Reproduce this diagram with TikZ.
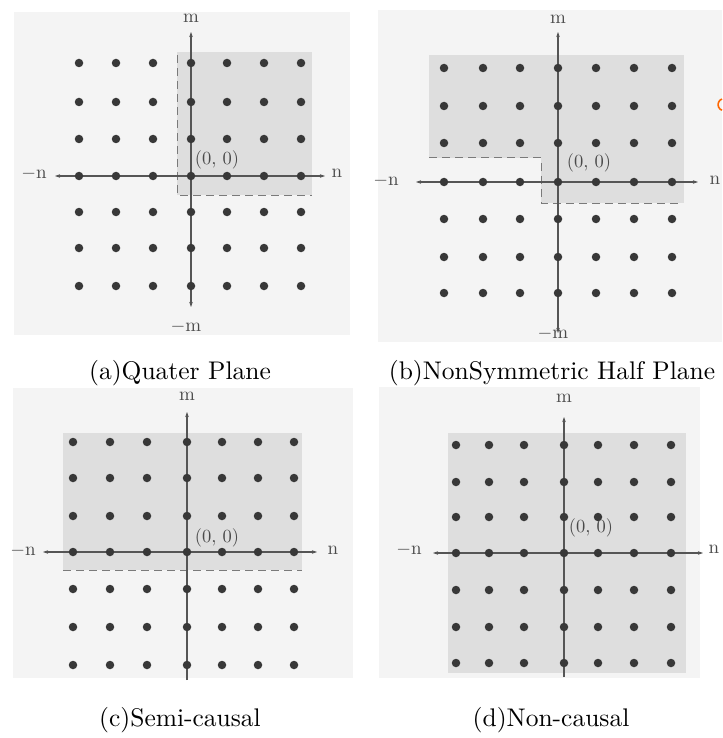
\documentclass[tikz,border=0pt]{standalone}
\usetikzlibrary{arrows.meta}
\definecolor{scanbg}{HTML}{F4F4F4}
\definecolor{shadec}{HTML}{DEDEDE}
\definecolor{dotc}{HTML}{383838}
\definecolor{axisc}{HTML}{555555}
\definecolor{txtc}{HTML}{4A4A4A}
\definecolor{dashc}{HTML}{7A7A7A}
\begin{document}
\begin{tikzpicture}[x=1pt,y=-1pt,
 axisline/.style={draw=axisc, line width=1.1pt, {Stealth[length=5pt,width=3.5pt]}-{Stealth[length=5pt,width=3.5pt]}},
 axisup/.style={draw=axisc, line width=1.1pt, -{Stealth[length=5pt,width=3.5pt]}},
 dashln/.style={draw=dashc, line width=1pt, dash pattern=on 8pt off 5pt},
 lbl/.style={text=txtc, scale=1.9, inner sep=0pt},
 orig/.style={text=txtc, scale=1.85, inner sep=0pt},
 captxt/.style={text=black, scale=2.55, inner sep=0pt},
 dot/.style={circle, fill=dotc, minimum size=8.5pt, inner sep=0pt}]
\useasboundingbox (0,0) rectangle (722,738);
\fill[white] (0,0) rectangle (722,738);
% panel backgrounds
\fill[scanbg] (14,12) rectangle (350,335);
\fill[scanbg] (378,10) rectangle (722,342);
\fill[scanbg] (13,388) rectangle (353,678);
\fill[scanbg] (379,387) rectangle (700,678);

% ---------- (a) quarter plane ----------
\fill[shadec] (177,52) rectangle (312,195);
\draw[dashln] (177,55) -- (177,195) -- (312,195);
\coordinate (aT) at (191,32); \coordinate (aB) at (191,307);
\coordinate (aL) at (55,176); \coordinate (aR) at (325,176);
\draw[axisline] (aL) -- (aR);
\draw[axisline] (aB) -- (aT);
\foreach \x [count=\i] in {79,116,153,191,227,264,301}
  \foreach \y [count=\j] in {63,102,139,176,212,248,286}
    \node[dot] (a-\i-\j) at (\x,\y) {};
\node[lbl] (am) at (191,18) {m};
\node[lbl] (amm) at (186,327) {$-$m};
\node[lbl] (anl) at (34,174) {$-$n};
\node[lbl] (anr) at (337,173) {n};
\node[orig] (ao) at (217,160) {(0, 0)};
\node[captxt] (capa) at (180,373) {(a)Quater Plane};

% ---------- (b) nonsymmetric half plane ----------
\fill[shadec] (429,55) rectangle (684,158);
\fill[shadec] (541,158) rectangle (684,203);
\draw[dashln] (429,158) -- (541,158) -- (541,203) -- (678,203);
\coordinate (bT) at (558,32); \coordinate (bB) at (558,333);
\coordinate (bL) at (416,182); \coordinate (bR) at (698,182);
\draw[axisline] (bL) -- (bR);
\draw[axisline] (bB) -- (bT);
\foreach \x [count=\i] in {444,483,520,558,596,634,672}
  \foreach \y [count=\j] in {68,106,143,182,219,257,293}
    \node[dot] (b-\i-\j) at (\x,\y) {};
\node[lbl] (bm) at (558,19) {m};
\node[lbl] (bmm) at (553,334) {$-$m};
\node[lbl] (bnl) at (386,181) {$-$n};
\node[lbl] (bnr) at (715,180) {n};
\node[orig] (bo) at (589,163) {(0, 0)};
\draw[orange!80!red, line width=1.6pt] (722,99) arc[start angle=110, end angle=250, radius=6pt];
\node[captxt] (capb) at (552,373) {(b)NonSymmetric Half Plane};

% ---------- (c) semi-causal ----------
\fill[shadec] (63,433) rectangle (302,570);
\draw[dashln] (63,570) -- (302,570);
\coordinate (cT) at (187,412); \coordinate (cB) at (187,680);
\coordinate (cL) at (43,552); \coordinate (cR) at (317,552);
\draw[axisline] (cL) -- (cR);
\draw[axisup] (cB) -- (cT);
\foreach \x [count=\i] in {73,110,147,187,222,258,294}
  \foreach \y [count=\j] in {442,478,516,552,589,627,665}
    \node[dot] (c-\i-\j) at (\x,\y) {};
\node[lbl] (cm) at (187,396) {m};
\node[lbl] (cnl) at (23,551) {$-$n};
\node[lbl] (cnr) at (333,550) {n};
\node[orig] (co) at (217,538) {(0, 0)};
\node[captxt] (capc) at (180,720) {(c)Semi-causal};

% ---------- (d) non-causal ----------
\fill[shadec] (448,433) rectangle (686,673);
\coordinate (dT) at (564,417); \coordinate (dB) at (564,677);
\coordinate (dL) at (433,553); \coordinate (dR) at (703,553);
\draw[axisline] (dL) -- (dR);
\draw[axisup] (dB) -- (dT);
\foreach \x [count=\i] in {456,489,524,564,598,634,671}
  \foreach \y [count=\j] in {445,482,517,553,590,627,663}
    \node[dot] (d-\i-\j) at (\x,\y) {};
\node[lbl] (dm) at (564,398) {m};
\node[lbl] (dnl) at (409,550) {$-$n};
\node[lbl] (dnr) at (714,549) {n};
\node[orig] (do) at (591,528) {(0, 0)};
\node[captxt] (capd) at (551,720) {(d)Non-causal};
\end{tikzpicture}
\end{document}
